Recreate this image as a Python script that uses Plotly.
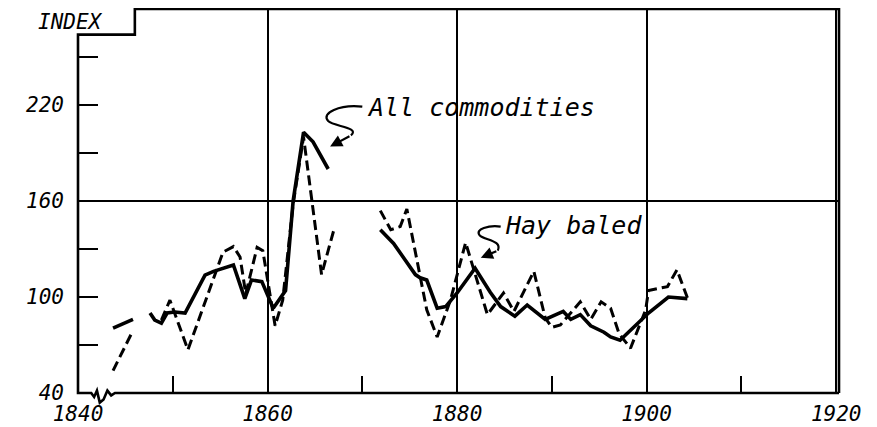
import plotly.graph_objects as go

# ---- data ----
allc_years = [1843.7, 1845.8, None,
              1847.6, 1848.1, 1848.8, 1849.4, 1850.2, 1851.3, 1853.4, 1854.3, 1856.4,
              1857.6, 1858.3, 1859.4, 1860.6, 1861.9, 1862.7, 1863.8, 1864.8, 1866.4, None,
              1871.9, 1873.3, 1874.3, 1875.6, 1876.1, 1876.8, 1877.9, 1878.8, 1880.0,
              1881.9, 1883.5, 1884.6, 1886.1, 1887.4, 1889.3, 1891.2, 1892.0, 1893.0,
              1894.1, 1895.5, 1896.2, 1897.2, 1900.2, 1902.3, 1904.3]
allc_values = [80.6, 86, None,
               90, 85.6, 83.7, 90, 90.6, 90, 113.7, 116, 120,
               99, 110.6, 109.6, 93, 104, 160, 203, 197, 180, None,
               142, 133.5, 125, 114, 112, 110.6, 93, 94, 102.5,
               118, 103, 94, 88, 95, 86, 91, 86, 89,
               82, 78, 75, 73, 90, 100, 99]

hay_years = [1843.7, 1845.8, None,
             1848.8, 1849.7, 1851.6, 1854.3, 1855.3, 1856.4, 1857.1, 1857.7, 1858.9,
             1859.5, 1860.8, 1861.6, 1862.7, 1863.8, 1865.7, 1867.0, None,
             1871.9, 1873.0, 1874.0, 1874.7, 1876.8, 1877.9, 1879.3, 1880.9, 1883.2,
             1884.9, 1886.0, 1888.1, 1889.3, 1890.0, 1890.9, 1893.0, 1894.1, 1895.2,
             1896.2, 1897.1, 1898.3, 1899.9, 1900.2, 1902.2, 1903.2, 1904.4]
hay_values = [54, 79, None,
              85.6, 98, 67, 110.6, 128, 131.5, 125, 102, 131,
              129, 82, 98, 158, 200, 114, 142, None,
              154, 142, 144, 155, 92, 75, 98, 134, 89,
              102.5, 91, 116, 87, 81, 82.5, 97, 86, 97,
              93, 77, 68, 92, 104, 106.5, 117, 98]

x_labels = ["1840", "1860", "1880", "1900", "1920"]
x_label_vals = [1840, 1860, 1880, 1900, 1920]
x_minor_vals = [1850, 1870, 1890, 1910]
y_labels = ["40", "100", "160", "220"]
y_label_vals = [40, 100, 160, 220]
y_minor_vals = [70, 130, 190, 250]

X0, X1 = 1840, 1920.3
Y0, Y1 = 40, 280
FONT = "DejaVu Sans Mono"
# the page body has an 8px margin, so the figure is sized to sit at 78..839 / 9..393
ML, MR, MT, MB = 70, 38, 1, 34
FIG_W, FIG_H = 869, 419
W_PLOT = FIG_W - ML - MR
H_PLOT = FIG_H - MT - MB

fig = go.Figure()
fig.add_trace(go.Scatter(x=allc_years, y=allc_values, mode="lines", name="All commodities",
                         line=dict(color="black", width=3.6), connectgaps=False))
fig.add_trace(go.Scatter(x=hay_years, y=hay_values, mode="lines", name="Hay baled",
                         line=dict(color="black", width=3.0, dash="10px,5px"), connectgaps=False))

# frame with notch and axis break (paper coords)
def px(year):
    return (year - X0) / (X1 - X0)

def py(val):
    return (val - Y0) / (Y1 - Y0)

step_x = px(1846.0)
notch_y = py(264)
pts = [(1, 0), (px(1843.9), 0), (px(1843.5), py(38.5)), (px(1843.1), py(41.5)),
       (px(1842.7), py(36)), (px(1842.3), py(34)), (px(1842.0), py(41.5)),
       (px(1841.7), py(37.5)), (px(1841.4), py(40)), (0, 0),
       (0, notch_y), (step_x, notch_y), (step_x, 1), (1, 1), (1, 0)]
path = "M " + " L ".join(f"{a:.4f},{b:.4f}" for a, b in pts)
fig.add_shape(type="path", path=path, xref="paper", yref="paper",
              line=dict(color="black", width=2.6))

# horizontal grid line at 160
fig.add_shape(type="line", xref="paper", x0=0, x1=1, yref="y", y0=160, y1=160,
              line=dict(color="black", width=2))

# S-shaped leaders
fig.add_shape(type="path", xref="x", yref="y",
              path="M 1870.0,219 C 1867.6,220.5 1865.6,215 1866.4,210 C 1867.0,206.5 1869.8,206 1868.8,201",
              line=dict(color="black", width=2.2))
fig.add_annotation(x=1866.6, y=194, ax=1868.8, ay=201, xref="x", yref="y", axref="x", ayref="y",
                   text="", showarrow=True, arrowhead=2, arrowsize=1.1, arrowwidth=2.2, arrowcolor="black")
fig.add_shape(type="path", xref="x", yref="y",
              path="M 1884.6,144 C 1883.4,145 1881.8,142.5 1882.4,138.5 C 1882.9,135.5 1884.8,135.5 1884.3,129",
              line=dict(color="black", width=2.2))
fig.add_annotation(x=1882.5, y=124.5, ax=1884.3, ay=129, xref="x", yref="y", axref="x", ayref="y",
                   text="", showarrow=True, arrowhead=2, arrowsize=1.1, arrowwidth=2.2, arrowcolor="black")

# labels
fig.add_annotation(x=1870.3, y=218.5, xref="x", yref="y", xanchor="left", yanchor="middle",
                   text="All commodities", showarrow=False,
                   font=dict(family=FONT, size=25, color="black", style="italic"))
fig.add_annotation(x=1884.8, y=144.5, xref="x", yref="y", xanchor="left", yanchor="middle",
                   text="Hay baled", showarrow=False,
                   font=dict(family=FONT, size=25, color="black", style="italic"))
fig.add_annotation(x=-42 / W_PLOT, y=1 + MT / H_PLOT, xref="paper", yref="paper",
                   xanchor="left", yanchor="top", text="INDEX", showarrow=False,
                   font=dict(family=FONT, size=21, color="black", style="italic"))

fig.update_layout(
    width=FIG_W, height=FIG_H,
    margin=dict(l=ML, r=MR, t=MT, b=MB, autoexpand=False),
    plot_bgcolor="white", paper_bgcolor="white",
    showlegend=False,
    xaxis=dict(range=[X0, X1], tickvals=x_label_vals, ticktext=x_labels, automargin=False,
               ticks="inside", ticklen=17, tickwidth=2.4, tickcolor="black",
               showgrid=True, gridcolor="black", gridwidth=2,
               showline=False, zeroline=False, ticklabelstandoff=6,
               tickfont=dict(family=FONT, size=21, color="black", style="italic"),
               minor=dict(tickvals=x_minor_vals, ticks="inside", ticklen=17,
                          tickwidth=2.4, tickcolor="black", showgrid=False)),
    yaxis=dict(range=[Y0, Y1], tickvals=y_label_vals, ticktext=y_labels, automargin=False,
               ticks="inside", ticklen=20, tickwidth=2.4, tickcolor="black",
               showgrid=False, showline=False, zeroline=False, ticklabelstandoff=13,
               tickfont=dict(family=FONT, size=21, color="black", style="italic"),
               minor=dict(tickvals=y_minor_vals, ticks="inside", ticklen=20,
                          tickwidth=2.4, tickcolor="black", showgrid=False)),
)

fig.write_html("out.html")
